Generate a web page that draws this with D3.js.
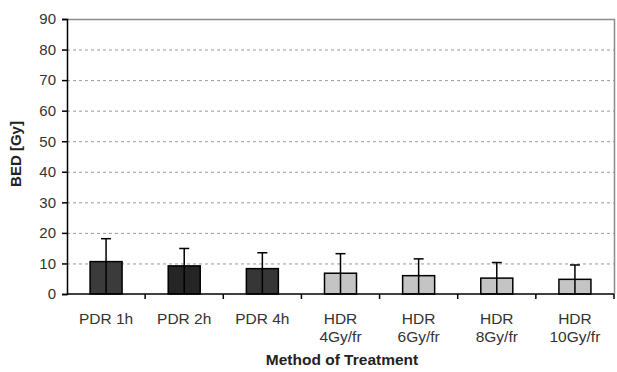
<!DOCTYPE html>
<html>
<head>
<meta charset="utf-8">
<script src="https://cdn.jsdelivr.net/npm/d3@7"></script>
<style>
  body { margin: 0; background: #fff; }
  svg { display: block; font-family: "Liberation Sans", Arial, sans-serif; }
</style>
</head>
<body>
<svg id="chart" width="617" height="372"></svg>
<script>
// BED by treatment method, mean with upper standard deviation
const categories = [["PDR 1h"], ["PDR 2h"], ["PDR 4h"], ["HDR", "4Gy/fr"], ["HDR", "6Gy/fr"], ["HDR", "8Gy/fr"], ["HDR", "10Gy/fr"]];
const meanValues = [10.6, 9.2, 8.3, 6.8, 6.0, 5.2, 4.8];
const upperValues = [18.1, 14.9, 13.5, 13.2, 11.5, 10.3, 9.5];
const barFills = ["#3b3b3b", "#252525", "#363636", "#c4c4c4", "#c4c4c4", "#c4c4c4", "#c4c4c4"];
const yTicks = [0, 10, 20, 30, 40, 50, 60, 70, 80, 90];

const svg = d3.select("#chart");
const x0 = 67, x1 = 614, yBase = 294, yTop = 19;

const keys = categories.map(c => c.join(" "));
const x = d3.scaleBand().domain(keys).range([x0, x1]).paddingInner(0).paddingOuter(0);
const y = d3.scaleLinear().domain([0, 90]).range([yBase, yTop]);

// gridlines
svg.append("g").selectAll("line")
  .data(yTicks.filter(t => t > 0 && t < 90))
  .join("line")
  .attr("x1", x0).attr("x2", x1)
  .attr("y1", d => y(d) + 0.5).attr("y2", d => y(d) + 0.5)
  .attr("stroke", "#9a9a9a").attr("stroke-width", 1)
  .attr("stroke-dasharray", "3,3");

// plot frame (top and right)
svg.append("path")
  .attr("d", `M${x0},${y(90) + 0.5}H${x1 + 0.5}V${y(0)}`)
  .attr("fill", "none").attr("stroke", "#8c8c8c").attr("stroke-width", 1.5);

const bw = 32;
const data = keys.map((k, i) => ({ k, mean: meanValues[i], upper: upperValues[i], fill: barFills[i] }));

// bars
svg.append("g").selectAll("rect")
  .data(data)
  .join("rect")
  .attr("x", d => x(d.k) + x.bandwidth() / 2 - bw / 2)
  .attr("width", bw)
  .attr("y", d => y(d.mean))
  .attr("height", d => y(0) - y(d.mean))
  .attr("fill", d => d.fill)
  .attr("stroke", "#000").attr("stroke-width", 1.5);

// error bars (upper only)
const eb = svg.append("g").attr("stroke", "#000").attr("stroke-width", 1.5);
eb.selectAll("line.v")
  .data(data).join("line").attr("class", "v")
  .attr("x1", d => x(d.k) + x.bandwidth() / 2).attr("x2", d => x(d.k) + x.bandwidth() / 2)
  .attr("y1", d => y(0)).attr("y2", d => y(d.upper));
eb.selectAll("line.c")
  .data(data).join("line").attr("class", "c")
  .attr("x1", d => x(d.k) + x.bandwidth() / 2 - 5).attr("x2", d => x(d.k) + x.bandwidth() / 2 + 5)
  .attr("y1", d => y(d.upper)).attr("y2", d => y(d.upper));

// y axis
const yAxis = svg.append("g")
  .attr("transform", `translate(${x0},0)`)
  .call(d3.axisLeft(y).tickValues(yTicks).tickSize(5).tickPadding(6));
yAxis.select(".domain").attr("stroke", "#000").attr("stroke-width", 1.5);
yAxis.selectAll(".tick line").attr("stroke", "#000").attr("stroke-width", 1.5);
yAxis.selectAll(".tick text")
  .attr("font-size", 15).attr("fill", "#333")
  .attr("font-family", "'Liberation Sans', Arial, sans-serif");

// x axis with ticks at category boundaries
const xg = svg.append("g").attr("transform", `translate(0,${y(0)})`);
xg.append("line").attr("x1", x0).attr("x2", x1).attr("stroke", "#000").attr("stroke-width", 1.5);
xg.selectAll("line.tk")
  .data(keys.slice(1).concat(["end"]))
  .join("line").attr("class", "tk")
  .attr("x1", d => d === "end" ? x1 : x(d)).attr("x2", d => d === "end" ? x1 : x(d))
  .attr("y1", 0).attr("y2", 5)
  .attr("stroke", "#000").attr("stroke-width", 1.5);

// category labels
const lab = svg.append("g").attr("font-size", 15.5).attr("fill", "#333").attr("text-anchor", "middle");
lab.selectAll("text")
  .data(categories)
  .join("text")
  .attr("x", (d, i) => x(keys[i]) + x.bandwidth() / 2)
  .attr("y", 324)
  .selectAll("tspan")
  .data(d => d)
  .join("tspan")
  .attr("x", function () { return d3.select(this.parentNode).attr("x"); })
  .attr("dy", (d, i) => i === 0 ? 0 : 18)
  .text(d => d);

// axis titles
svg.append("text")
  .attr("x", 342).attr("y", 365)
  .attr("text-anchor", "middle").attr("font-weight", "bold").attr("font-size", 15.5).attr("fill", "#222")
  .text("Method of Treatment");
svg.append("text")
  .attr("transform", `translate(21,154) rotate(-90)`)
  .attr("text-anchor", "middle").attr("font-weight", "bold").attr("font-size", 15).attr("fill", "#222")
  .text("BED [Gy]");
</script>
</body>
</html>
